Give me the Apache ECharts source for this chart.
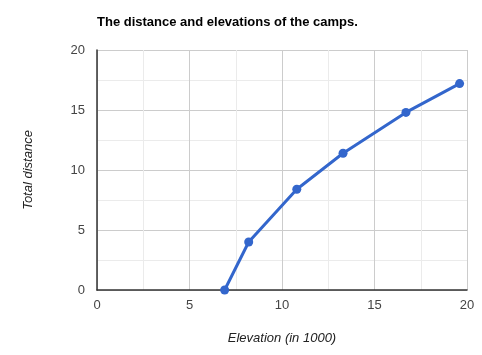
<!DOCTYPE html>
<html><head><meta charset="utf-8">
<script src="https://cdn.jsdelivr.net/npm/echarts@6/dist/echarts.min.js"></script>
<style>html,body{margin:0;padding:0;background:#fff}#c{width:482px;height:355px}</style>
</head><body><div id="c"></div>
<script>
const elevation = [6.9, 8.2, 10.8, 13.3, 16.7, 19.6];
const distance = [0, 4, 8.4, 11.4, 14.8, 17.2];
const xTicks = [0, 5, 10, 15, 20];
const yTicks = [0, 5, 10, 15, 20];
const chart = echarts.init(document.getElementById('c'), null, {renderer: 'canvas'});
const font = 'Arial, "Liberation Sans", sans-serif';
chart.setOption({
  animation: false,
  title: {text: 'The distance and elevations of the camps.', left: 97, top: 16, padding: 0,
    textStyle: {fontFamily: font, fontSize: 13, fontWeight: 'bold', color: '#000'}},
  grid: {left: 97, right: 15, top: 50, bottom: 65},
  xAxis: {type: 'value', min: 0, max: 20, interval: 5,
    name: 'Elevation (in 1000)', nameLocation: 'middle', nameGap: 42,
    nameTextStyle: {fontFamily: font, fontSize: 13, fontStyle: 'italic', color: '#222'},
    axisLine: {show: true, onZero: false, lineStyle: {color: '#333', width: 1.5}},
    axisTick: {show: false},
    axisLabel: {fontFamily: font, fontSize: 13, color: '#444', margin: 9,
      formatter: v => xTicks.includes(v) ? String(v) : ''},
    splitLine: {show: true, lineStyle: {color: '#ccc'}},
    minorTick: {show: false, splitNumber: 2},
    minorSplitLine: {show: true, lineStyle: {color: '#ebebeb'}}},
  yAxis: {type: 'value', min: 0, max: 20, interval: 5,
    name: 'Total distance', nameLocation: 'middle', nameGap: 62, nameRotate: 90,
    nameTextStyle: {fontFamily: font, fontSize: 13, fontStyle: 'italic', color: '#222'},
    axisLine: {show: true, onZero: false, lineStyle: {color: '#333', width: 1.5}},
    axisTick: {show: false},
    axisLabel: {fontFamily: font, fontSize: 13, color: '#444', margin: 12,
      formatter: v => yTicks.includes(v) ? String(v) : ''},
    splitLine: {show: true, lineStyle: {color: '#ccc'}},
    minorTick: {show: false, splitNumber: 2},
    minorSplitLine: {show: true, lineStyle: {color: '#ebebeb'}}},
  series: [{type: 'line', data: elevation.map((x, i) => [x, distance[i]]),
    symbol: 'circle', symbolSize: 9, showSymbol: true,
    lineStyle: {color: '#3366cc', width: 3}, itemStyle: {color: '#3366cc'}}]
});
</script></body></html>
